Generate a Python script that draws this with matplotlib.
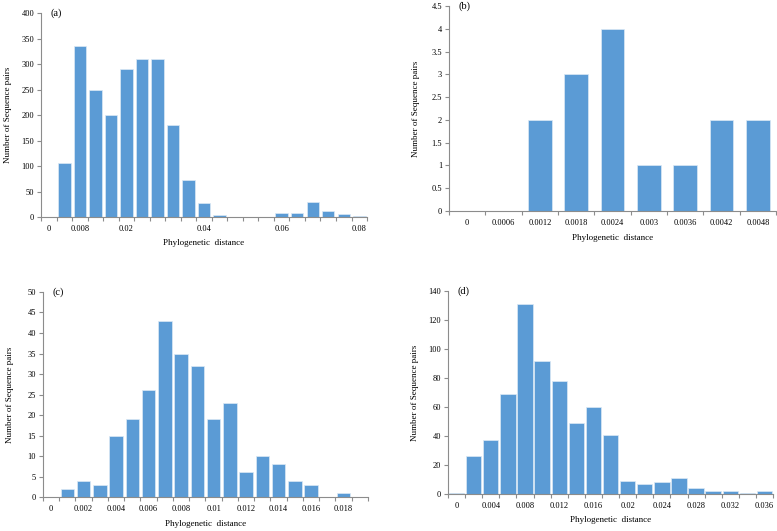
import numpy as np
import matplotlib.pyplot as plt

plt.rcParams['font.family'] = ['Liberation Serif', 'DejaVu Serif']

# (a)
cats_a = ['0', '0.004', '0.008', '0.012', '0.016', '0.02', '0.024', '0.028', '0.032',
          '0.036', '0.04', '0.044', '0.048', '0.052', '0.056', '0.06', '0.064', '0.068',
          '0.072', '0.076', '0.08']
vals_a = [0, 105, 335, 250, 200, 290, 310, 310, 180, 72, 28, 3, 0, 0, 0, 8, 8, 30, 12, 5, 2]
shown_a = ['0', '0.008', '0.02', '0.04', '0.06', '0.08']

# (b)
cats_b = ['0', '0.0006', '0.0012', '0.0018', '0.0024', '0.003', '0.0036', '0.0042', '0.0048']
vals_b = [0, 0, 2, 3, 4, 1, 1, 2, 2]
shown_b = cats_b

# (c)
cats_c = ['0', '0.001', '0.002', '0.003', '0.004', '0.005', '0.006', '0.007', '0.008', '0.009',
          '0.01', '0.011', '0.012', '0.013', '0.014', '0.015', '0.016', '0.017', '0.018', '0.019']
vals_c = [0, 2, 4, 3, 15, 19, 26, 43, 35, 32, 19, 23, 6, 10, 8, 4, 3, 0, 1, 0]
shown_c = ['0', '0.002', '0.004', '0.006', '0.008', '0.01', '0.012', '0.014', '0.016', '0.018']

# (d)
cats_d = ['0', '0.002', '0.004', '0.006', '0.008', '0.01', '0.012', '0.014', '0.016', '0.018',
          '0.02', '0.022', '0.024', '0.026', '0.028', '0.03', '0.032', '0.034', '0.036']
vals_d = [1, 26, 37, 69, 131, 92, 78, 49, 60, 41, 9, 7, 8, 11, 4, 2, 2, 1, 2]
shown_d = ['0', '0.004', '0.008', '0.012', '0.016', '0.02', '0.024', '0.028', '0.032', '0.036']

bar_color = '#5B9BD5'
axis_color = '#8C8C8C'

fig = plt.figure(figsize=(7.77, 5.31), dpi=100)

panels = [
    ('(a)', cats_a, vals_a, shown_a, 0.8, (0, 400, 50), [0.0528, 0.5913, 0.4196, 0.3842]),
    ('(b)', cats_b, vals_b, shown_b, 0.65, (0, 4.5, 0.5), [0.5779, 0.6026, 0.4208, 0.3861]),
    ('(c)', cats_c, vals_c, shown_c, 0.82, (0, 50, 5), [0.0553, 0.0640, 0.4183, 0.3861]),
    ('(d)', cats_d, vals_d, shown_d, 0.9, (0, 140, 20), [0.5766, 0.0697, 0.4183, 0.3823]),
]

for letter, cats, vals, shown, width, yr, pos in panels:
    ax = fig.add_axes(pos)
    x = np.arange(len(cats))
    ax.bar(x, vals, width=width, color=bar_color, edgecolor='#DCE9F5', linewidth=0.5)
    ax.set_xlim(-0.5, len(cats) - 0.5)
    ax.set_ylim(yr[0], yr[1])
    yt = np.arange(yr[0], yr[1] + yr[2] / 2, yr[2])
    ax.set_yticks(yt)
    ax.set_yticklabels(['%g' % v for v in yt], fontsize=6)
    ax.set_xticks(x)
    ax.set_xticklabels([c if c in shown else '' for c in cats], fontsize=6)
    ax.set_xticks(np.arange(len(cats) + 1) - 0.5, minor=True)
    ax.tick_params(axis='x', which='major', length=0, pad=6)
    ax.tick_params(axis='x', which='minor', length=3, color=axis_color, width=0.8)
    ax.tick_params(axis='y', length=3, color=axis_color, width=0.8, pad=2)
    for s in ['top', 'right']:
        ax.spines[s].set_visible(False)
    for s in ['left', 'bottom']:
        ax.spines[s].set_color(axis_color)
        ax.spines[s].set_linewidth(0.8)
    ax.set_xlabel('Phylogenetic  distance', fontsize=6.5)
    ax.set_ylabel('Number of Sequence pairs', fontsize=6.5)
    ax.xaxis.set_label_coords(0.5, -0.11)
    ax.yaxis.set_label_coords(-0.09, 0.5)
    ax.text(0.028, 1.0, letter, transform=ax.transAxes, fontsize=7.5, va='center', ha='left')

fig.savefig('out.png', dpi=100)
